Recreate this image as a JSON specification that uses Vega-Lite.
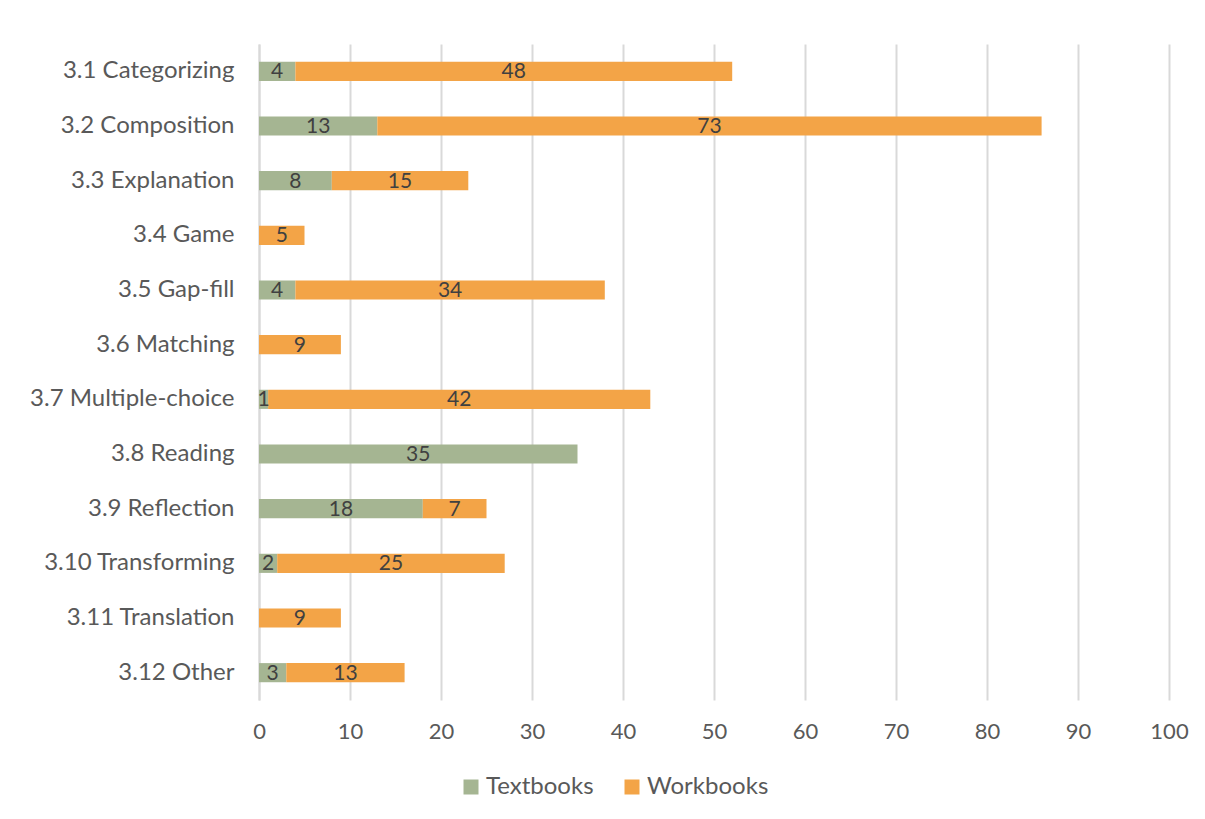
{
  "$schema": "https://vega.github.io/schema/vega-lite/v6.json",
  "width": 910,
  "height": 656,
  "autosize": "none",
  "padding": {"left": 259, "top": 44, "right": 36, "bottom": 119},
  "background": "white",
  "config": {
    "font": "Lato",
    "view": {"stroke": null}
  },
  "data": {
    "values": [
      {"activity": "3.1 Categorizing", "source": "Textbooks", "count": 4},
      {"activity": "3.1 Categorizing", "source": "Workbooks", "count": 48},
      {"activity": "3.2 Composition", "source": "Textbooks", "count": 13},
      {"activity": "3.2 Composition", "source": "Workbooks", "count": 73},
      {"activity": "3.3 Explanation", "source": "Textbooks", "count": 8},
      {"activity": "3.3 Explanation", "source": "Workbooks", "count": 15},
      {"activity": "3.4 Game", "source": "Workbooks", "count": 5},
      {"activity": "3.5 Gap-fill", "source": "Textbooks", "count": 4},
      {"activity": "3.5 Gap-fill", "source": "Workbooks", "count": 34},
      {"activity": "3.6 Matching", "source": "Workbooks", "count": 9},
      {"activity": "3.7 Multiple-choice", "source": "Textbooks", "count": 1},
      {"activity": "3.7 Multiple-choice", "source": "Workbooks", "count": 42},
      {"activity": "3.8 Reading", "source": "Textbooks", "count": 35},
      {"activity": "3.9 Reflection", "source": "Textbooks", "count": 18},
      {"activity": "3.9 Reflection", "source": "Workbooks", "count": 7},
      {"activity": "3.10 Transforming", "source": "Textbooks", "count": 2},
      {"activity": "3.10 Transforming", "source": "Workbooks", "count": 25},
      {"activity": "3.11 Translation", "source": "Workbooks", "count": 9},
      {"activity": "3.12 Other", "source": "Textbooks", "count": 3},
      {"activity": "3.12 Other", "source": "Workbooks", "count": 13}
    ]
  },
  "encoding": {
    "y": {
      "field": "activity",
      "type": "nominal",
      "sort": null,
      "title": null,
      "scale": {"paddingInner": 0.65, "paddingOuter": 0.325},
      "axis": {
        "labelFontSize": 24,
        "labelColor": "#595959",
        "labelPadding": 25,
        "labelLimit": 300,
        "ticks": false,
        "domainColor": "#d9d9d9",
        "domainWidth": 2
      }
    },
    "x": {
      "field": "count",
      "type": "quantitative",
      "stack": "zero",
      "title": null,
      "scale": {"domain": [0, 100], "nice": false},
      "axis": {
        "values": [0, 10, 20, 30, 40, 50, 60, 70, 80, 90, 100],
        "labelFontSize": 22,
        "labelColor": "#595959",
        "labelPadding": 21,
        "labelFlush": false,
        "ticks": false,
        "domain": false,
        "gridColor": "#d9d9d9",
        "gridWidth": 2
      }
    },
    "order": {"field": "source", "sort": "ascending"}
  },
  "layer": [
    {
      "mark": {"type": "bar"},
      "encoding": {
        "color": {
          "field": "source",
          "type": "nominal",
          "title": null,
          "scale": {"domain": ["Textbooks", "Workbooks"], "range": ["#a5b592", "#f3a447"]},
          "legend": {
            "orient": "none",
            "legendX": 200,
            "legendY": 731,
            "direction": "horizontal",
            "symbolType": "square",
            "symbolSize": 225,
            "symbolStrokeWidth": 0,
            "labelFontSize": 24,
            "labelColor": "#595959",
            "labelOffset": 3,
            "columnPadding": 26
          }
        }
      }
    },
    {
      "mark": {
        "type": "text",
        "fontSize": 21,
        "color": "#404040",
        "baseline": "middle",
        "dy": 1,
        "dx": {"expr": "-datum.count * 4.55"}
      },
      "encoding": {
        "text": {"field": "count", "type": "quantitative"}
      }
    }
  ]
}
